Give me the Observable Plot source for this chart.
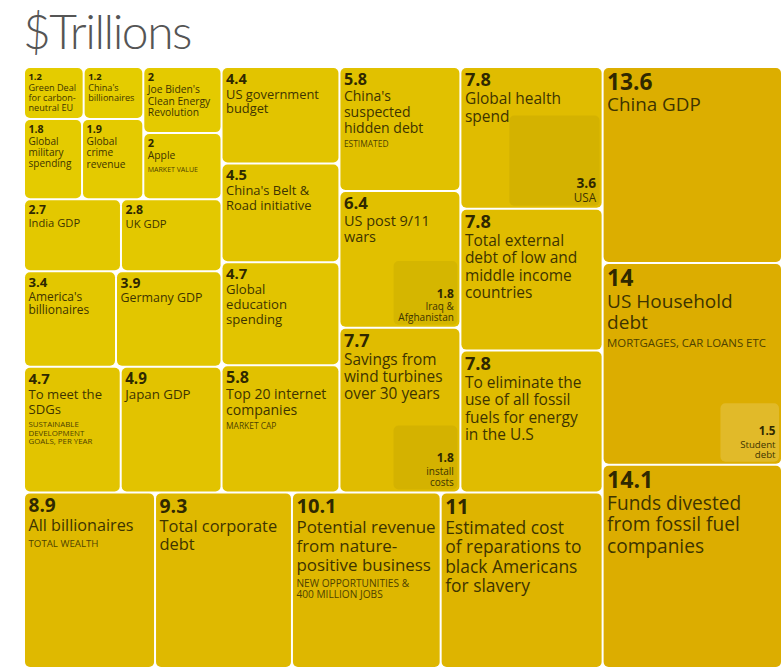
<!DOCTYPE html>
<html><head><meta charset="utf-8">
<script src="https://cdn.jsdelivr.net/npm/d3@7"></script>
<script src="https://cdn.jsdelivr.net/npm/@observablehq/plot@0.6"></script>
<style>
body{margin:0;background:#fff;}
#wrap{position:relative;width:784px;height:669px;overflow:hidden;}
#title{position:absolute;left:23px;top:2px;font-family:Lato,'Open Sans',sans-serif;font-weight:300;font-size:48px;line-height:58px;color:#555;letter-spacing:-1.5px}
</style></head><body>
<div id="wrap"><div id="title">$Trillions</div><div id="chart"></div></div>
<script>
// ---- data ----
const values = [1.2,1.2,1.8,1.9,2,2,2.7,2.8,3.4,3.9,4.7,4.9,
                4.4,4.5,4.7,5.8,
                5.8,6.4,7.7,
                7.8,7.8,7.8,
                8.9,9.3,10.1,11,
                13.6,14,14.1];
const names = [
 "Green Deal\nfor carbon-\nneutral EU","China's\nbillionaires","Global\nmilitary\nspending","Global\ncrime\nrevenue",
 "Joe Biden's\nClean Energy\nRevolution","Apple","India GDP","UK GDP","America's\nbillionaires","Germany GDP",
 "To meet the\nSDGs","Japan GDP",
 "US government\nbudget","China's Belt &\nRoad initiative","Global\neducation\nspending","Top 20 internet\ncompanies",
 "China's\nsuspected\nhidden debt","US post 9/11\nwars","Savings from\nwind turbines\nover 30 years",
 "Global health\nspend","Total external\ndebt of low and\nmiddle income\ncountries","To eliminate the\nuse of all fossil\nfuels for energy\nin the U.S",
 "All billionaires","Total corporate\ndebt","Potential revenue\nfrom nature-\npositive business","Estimated cost\nof reparations to\nblack Americans\nfor slavery",
 "China GDP","US Household\ndebt","Funds divested\nfrom fossil fuel\ncompanies"];
const notes = ["","","","","","MARKET VALUE","","","","",
 "SUSTAINABLE\nDEVELOPMENT\nGOALS, PER YEAR","",
 "","","","MARKET CAP",
 "ESTIMATED","","",
 "","","",
 "TOTAL WEALTH","","NEW OPPORTUNITIES &\n400 MILLION JOBS","",
 "","MORTGAGES, CAR LOANS ETC",""];
// nested items inside a box
const subParent = [19,17,18,27];
const subValues = [3.6,1.8,1.8,1.5];
const subNames = ["USA","Iraq &\nAfghanistan","install\ncosts","Student\ndebt"];
// grouping of the boxes (H = side by side, V = stacked)
const structure =
 ["H",
   ["V",
     ["H",
       ["V",
         ["H", ["V", ["H",0,1], ["H",2,3]], ["V",4,5]],
         ["H",6,7],
         ["H",8,9],
         ["H",10,11]],
       ["V",12,13,14,15],
       ["V",16,17,18],
       ["V",19,20,21]],
     ["H",22,23,24,25]],
   ["V",26,27,28]];

// ---- layout ----
function build(s){ return typeof s === "number" ? {i:s} : {dir:s[0], children:s.slice(1).map(build)}; }
const W = 756, H = 599;
const root = d3.hierarchy(build(structure)).sum(d => d.i != null ? values[d.i] : 0);
d3.treemap().size([W,H]).paddingInner(2)
  .tile((node,x0,y0,x1,y1) => (node.data.dir === "H" ? d3.treemapDice : d3.treemapSlice)(node,x0,y0,x1,y1))(root);

const FONT = "'Open Sans', 'Noto Sans', sans-serif";
const ctx = document.createElement("canvas").getContext("2d");
function textW(str, size, weight){
  ctx.font = `${weight} ${size}px 'Open Sans'`;
  return Math.max(...str.split("\n").map(l => ctx.measureText(l).width));
}
const leaves = root.leaves().map(n => {
  const i = n.data.i, v = values[i], w = n.x1 - n.x0;
  const vSize = 3.7 + 5.15*Math.sqrt(v);
  const nSize = Math.min(5 + 3.75*Math.sqrt(v), (w-7)/textW(names[i],10,400)*10);
  const noteSize = notes[i] ? Math.min(Math.max(nSize*0.6, 7), (w-6)/textW(notes[i],10,400)*10) : 0;
  const nLines = names[i].split("\n").length;
  const yVal = n.y0 + 5;
  const yName = yVal + 0.74*vSize + 0.33*nSize;
  const yNote = yName + 0.72*nSize + (nLines-1)*1.12*nSize + 0.35*nSize + 4;
  return {i, value:v, name:names[i], note:notes[i], x0:n.x0, x1:n.x1, y0:n.y0, y1:n.y1,
          vSize, nSize, noteSize, yVal, yName, yNote};
});
const byIndex = new Map(leaves.map(d => [d.i, d]));
const subs = subParent.map((p,k) => {
  const P = byIndex.get(p);
  const side = Math.sqrt(subValues[k]/P.value*(P.x1-P.x0)*(P.y1-P.y0))*0.95;
  const x1 = P.x1 - 2, y1 = P.y1 - 2;
  const lSize = 6 + 3*Math.sqrt(subValues[k]);
  const vSize = 8 + 3*Math.sqrt(subValues[k]);
  const lines = subNames[k].split("\n").length;
  return {value:subValues[k], name:subNames[k], x0:x1-side, x1, y0:y1-side, y1,
          lighter: P.value > 10, lSize, vSize,
          yLabel: y1 - 4, yVal: y1 - 4 - lines*lSize*1.08 - 2};
});

const chart = Plot.plot({
  width: 784, height: 669,
  marginLeft: 25, marginRight: 3, marginTop: 68, marginBottom: 2,
  x: {domain:[0,W], range:[25,781], axis:null},
  y: {domain:[0,H], range:[68,667], axis:null},
  color: {type:"linear", domain:[1.2,14.1], range:["#e4cc00","#dcad00"]},
  style: {fontFamily: FONT, background:"#fff"},
  marks: [
    Plot.rect(leaves, {x1:"x0", x2:"x1", y1:"y0", y2:"y1", fill:"value", rx:5}),
    Plot.rect(subs, {x1:"x0", x2:"x1", y1:"y0", y2:"y1", rx:5,
      fill: d => d.lighter ? "#ffffff" : "#000000", fillOpacity: d => d.lighter ? 0.16 : 0.05}),
    Plot.text(leaves, {x:"x0", y:"yVal", text: d => String(d.value), dx:3, textAnchor:"start", lineAnchor:"top",
      fontSize: d => d.vSize, fontWeight:700, fill:"#2f2800"}),
    Plot.text(leaves, {x:"x0", y:"yName", text:"name", dx:3, textAnchor:"start", lineAnchor:"top", lineHeight:1.12,
      fontSize: d => d.nSize, fill:"#3e3400"}),
    Plot.text(leaves.filter(d => d.note), {x:"x0", y:"yNote", text:"note", dx:3, textAnchor:"start", lineAnchor:"top", lineHeight:1.08,
      fontSize: d => d.noteSize, fill:"#4e4200"}),
    Plot.text(subs, {x:"x1", y:"yVal", text: d => String(d.value), dx:-4, textAnchor:"end", lineAnchor:"bottom",
      fontSize: d => d.vSize, fontWeight:700, fill:"#2f2800"}),
    Plot.text(subs, {x:"x1", y:"yLabel", text:"name", dx:-4, textAnchor:"end", lineAnchor:"bottom", lineHeight:1.08,
      fontSize: d => d.lSize, fill:"#3e3400"})
  ]
});
document.getElementById("chart").appendChild(chart);
</script>
</body></html>
